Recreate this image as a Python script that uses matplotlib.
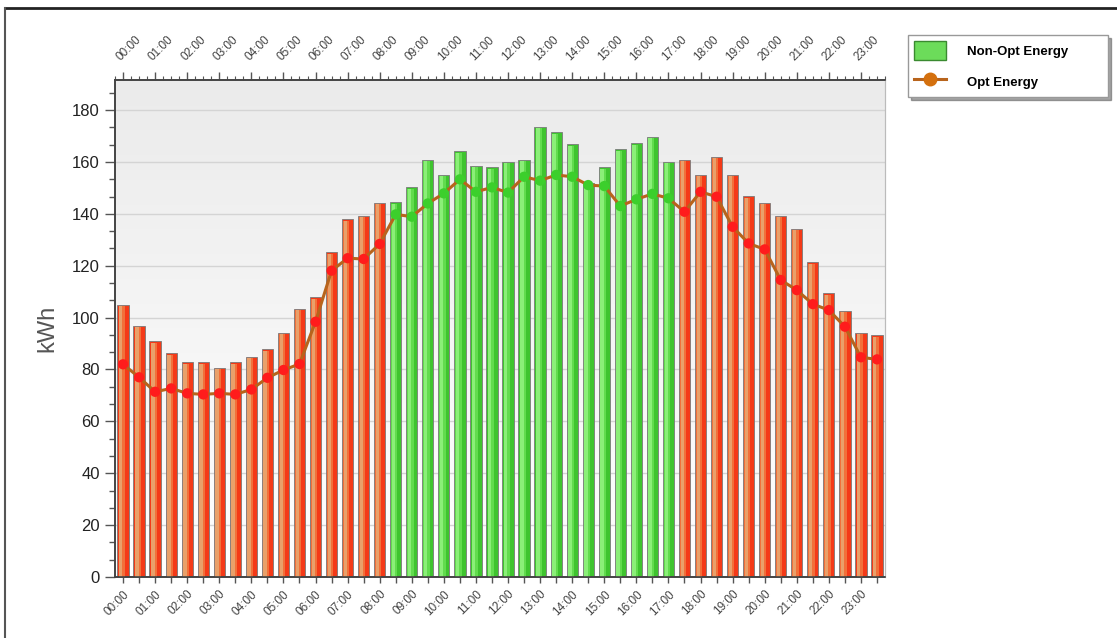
import matplotlib
matplotlib.use("Agg")
import matplotlib.pyplot as plt
import numpy as np
from matplotlib.patches import Patch
from matplotlib.lines import Line2D
from matplotlib.ticker import MultipleLocator, FixedLocator
from matplotlib.colors import LinearSegmentedColormap

# ---------------- data ----------------
hour_labels = ["%02d:00" % h for h in range(24)]
non_opt_energy = [105, 96.8, 91, 86.2, 82.9, 82.9, 80.6, 82.9, 84.9, 87.8,
                  94.2, 103.4, 107.8, 125.3, 137.9, 139.2, 144.3, 144.5, 150.2, 160.8,
                  155, 164.2, 158.6, 157.9, 160.1, 160.8, 173.6, 171.4, 166.9, 152,
                  157.9, 165, 167.2, 169.8, 160.1, 160.8, 155, 162, 155, 146.9,
                  144.3, 139.2, 134.3, 121.4, 109.4, 102.7, 94.2, 93.2]
opt_energy = [82, 77, 71.4, 72.7, 70.8, 70.4, 70.8, 70.4, 72.3, 76.8,
              79.8, 82.1, 98.4, 118.1, 122.9, 122.6, 128.4, 139.8, 138.9, 144,
              147.9, 153.3, 148.5, 150.2, 148.2, 154.3, 152.8, 155, 154.3, 151.1,
              150.7, 143, 145.6, 147.7, 146, 140.8, 148.5, 146.6, 135, 128.6,
              126.3, 114.5, 110.6, 105.2, 102.9, 96.5, 84.7, 83.9]
green_start, green_end = 17, 34   # half-hour slots in the "green" period

# ---------------- figure ----------------
plt.rcParams['font.family'] = ['Liberation Sans', 'DejaVu Sans']
fig = plt.figure(figsize=(11.17, 6.38), dpi=100)
ax = fig.add_axes([115/1117, 61/638, (885-115)/1117, (577-80)/638])

n = len(non_opt_energy)
x = np.arange(n)
is_green = np.array([green_start <= i <= green_end for i in range(n)])

# background gradient of plot area
grad = np.linspace(1.0, 0.0, 256).reshape(-1, 1)
bg_cmap = LinearSegmentedColormap.from_list("bg", ["#ffffff", "#ebebeb"])
ax.imshow(grad, cmap=bg_cmap, extent=[0, 1, 0, 1], transform=ax.transAxes,
          aspect='auto', zorder=0)

vals = np.array(non_opt_energy)
w = 0.7
base_cols = np.where(is_green, "#3fc42f", "#f43a18")
ax.bar(x, vals, width=w, color=base_cols, edgecolor="#7a7a7a", linewidth=0.6, zorder=2)
mid_cols = np.where(is_green, "#62dc4e", "#f2703a")
ax.bar(x - w*0.12, vals - 0.6, width=w*0.55, color=mid_cols, linewidth=0, zorder=3)
light_cols = np.where(is_green, "#8bef78", "#e9a06a")
ax.bar(x - w*0.2, vals - 0.6, width=w*0.3, color=light_cols, linewidth=0, zorder=3)

# optimized energy line
ax.plot(x, opt_energy, color="#b8641c", linewidth=2.2, zorder=4)
mk_cols = np.where(is_green, "#3ccf2c", "#ff1c1c")
ax.scatter(x, opt_energy, s=55, c=mk_cols, edgecolors='none', zorder=5)

# axes limits / grid
ax.set_xlim(-0.5, n - 0.5)
ax.set_ylim(0, 191.6)
ax.yaxis.set_major_locator(MultipleLocator(20))
ax.yaxis.set_minor_locator(MultipleLocator(20/3))
ax.grid(axis='y', color="#d4d4d4", linewidth=1.0, zorder=1)
ax.set_axisbelow(True)

ax.tick_params(axis='y', which='major', direction='out', length=7, width=1,
               color="#555555", labelsize=12, labelcolor="#222222", pad=4)
ax.tick_params(axis='y', which='minor', direction='out', length=4, width=1, color="#555555")
ax.set_ylabel("kWh", fontsize=17, color="#555555", labelpad=10)

# bottom x ticks
ax.xaxis.set_major_locator(FixedLocator(x[::2]))
ax.xaxis.set_minor_locator(FixedLocator(x))
ax.set_xticklabels(hour_labels, rotation=45, ha='right', rotation_mode='anchor',
                   fontsize=8.5, color="#444444")
ax.tick_params(axis='x', which='both', direction='out', length=4, width=1,
               color="#555555", pad=4)

# top x axis
ax2 = ax.twiny()
ax2.set_xlim(ax.get_xlim())
ax2.xaxis.set_major_locator(FixedLocator(x[::2]))
ax2.xaxis.set_minor_locator(MultipleLocator(0.5))
ax2.set_xticklabels(hour_labels, rotation=45, ha='left', rotation_mode='anchor',
                    fontsize=8.5, color="#444444")
ax2.tick_params(axis='x', which='major', direction='out', length=6, width=1,
                color="#555555", pad=6)
ax2.tick_params(axis='x', which='minor', direction='out', length=3, width=0.8,
                color="#555555")

for a in (ax, ax2):
    for side in ('left', 'bottom', 'top'):
        a.spines[side].set_color("#444444")
        a.spines[side].set_linewidth(1.2)
    a.spines['right'].set_color("#bbbbbb")

# legend
handles = [Patch(facecolor="#6cdc5a", edgecolor="#3a8a30", label="Non-Opt Energy"),
           Line2D([0], [0], color="#b8641c", linewidth=2.2, marker='o',
                  markersize=9, markerfacecolor="#d4700e", markeredgecolor="#d4700e",
                  label="Opt Energy")]
leg = fig.legend(handles=handles, loc='upper left', mode='expand',
                 bbox_to_anchor=(908/1117, 1 - 103/638, 200/1117, 68/638),
                 borderaxespad=0, frameon=True,
                 fancybox=False, shadow=True, edgecolor="#999999",
                 prop={'weight': 'bold', 'size': 9.5}, handlelength=2.4,
                 handleheight=1.8, borderpad=0.45, labelspacing=0.95,
                 handletextpad=1.6)
leg.get_frame().set_linewidth(1.0)

# figure frame lines (top and left)
fig.add_artist(Line2D([5/1117, 1], [1 - 8/638, 1 - 8/638], transform=fig.transFigure,
                      color="#222222", linewidth=2))
fig.add_artist(Line2D([5/1117, 5/1117], [0, 1 - 8/638], transform=fig.transFigure,
                      color="#555555", linewidth=1.5))

fig.savefig("out.png", dpi=100)
